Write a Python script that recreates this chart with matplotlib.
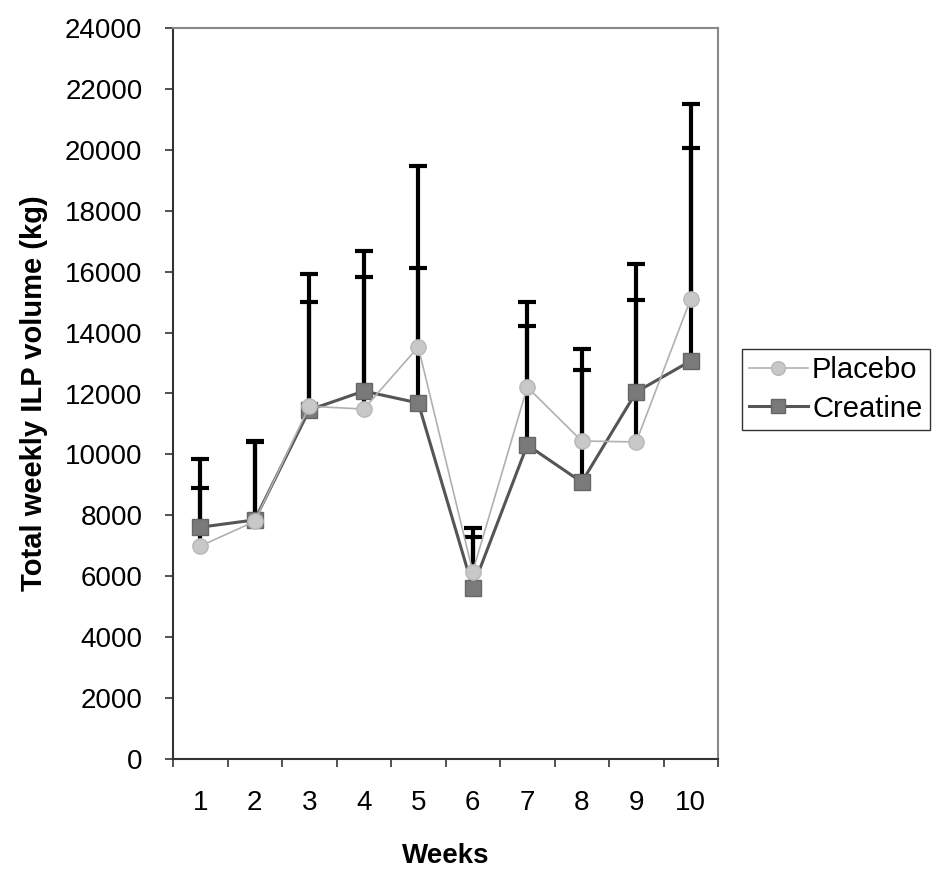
import matplotlib
matplotlib.use("Agg")
import matplotlib.pyplot as plt
import numpy as np

weeks = [1, 2, 3, 4, 5, 6, 7, 8, 9, 10]
placebo = [6990, 7800, 11580, 11490, 13530, 6150, 12210, 10440, 10410, 15110]
creatine = [7610, 7850, 11460, 12080, 11690, 5630, 10310, 9090, 12050, 13070]
placebo_sd = [2860, 2640, 4340, 5190, 5940, 1430, 2790, 3020, 5840, 6390]
creatine_sd = [1290, 2550, 3540, 3740, 4430, 1660, 3910, 3680, 3020, 6990]
yticks = [0, 2000, 4000, 6000, 8000, 10000, 12000, 14000, 16000, 18000, 20000, 22000, 24000]

plt.rcParams['font.family'] = ['Liberation Sans', 'DejaVu Sans']

fig = plt.figure(figsize=(9.35, 8.72), dpi=100)
ax = fig.add_axes([173/935, 1-759/872, (718-173)/935, (759-28)/872])

x = np.array(weeks)
z = np.zeros(len(weeks))
for vals, sd in [(placebo, placebo_sd), (creatine, creatine_sd)]:
    eb = ax.errorbar(x, vals, yerr=[z, sd], fmt='none', ecolor='black',
                     elinewidth=3, capsize=6.5, capthick=3, zorder=2)
    caps = eb[1]
    if len(caps) == 2:
        caps[0].set_visible(False)

ax.plot(x, placebo, color='#b0b0b0', lw=1.2, marker='o', ms=11,
        mfc='#c8c8c8', mec='#b8b8b8', mew=1, label='Placebo', zorder=4)
ax.plot(x, creatine, color='#555555', lw=2.2, marker='s', ms=11,
        mfc='#7a7a7a', mec='#666666', mew=1, label='Creatine', zorder=3)

ax.set_xlim(0.5, 10.5)
ax.set_ylim(0, 24000)
ax.set_yticks(yticks)
ax.set_yticklabels([str(v) for v in yticks])
ax.set_xticks(weeks)
ax.set_xticklabels([str(w) for w in weeks])
ax.set_xticks(np.arange(0.5, 11, 1.0), minor=True)
ax.tick_params(axis='x', which='major', length=0, pad=22, labelsize=20)
ax.tick_params(axis='x', which='minor', length=6, width=1.2, direction='out', color='#333333')
ax.tick_params(axis='y', length=6, width=1.2, direction='out', pad=16, labelsize=20, color='#333333')

for s in ['left', 'bottom']:
    ax.spines[s].set_color('#333333')
    ax.spines[s].set_linewidth(1.5)
for s in ['top', 'right']:
    ax.spines[s].set_color('#888888')
    ax.spines[s].set_linewidth(1.5)

ax.set_ylabel('Total weekly ILP volume (kg)', fontsize=21, fontweight='bold', labelpad=12)
ax.set_xlabel('Weeks', fontsize=20, fontweight='bold', labelpad=20)

leg = fig.legend(loc='upper left', bbox_to_anchor=(742/935, 1-349/872), fontsize=21,
                 frameon=True, fancybox=False, shadow=False, handlelength=2.0,
                 handletextpad=0.15, borderpad=0.25, labelspacing=0.35, borderaxespad=0,
                 markerscale=0.9)
leg.get_frame().set_edgecolor('black')
leg.get_frame().set_linewidth(1)

fig.savefig('out.png', dpi=100)
